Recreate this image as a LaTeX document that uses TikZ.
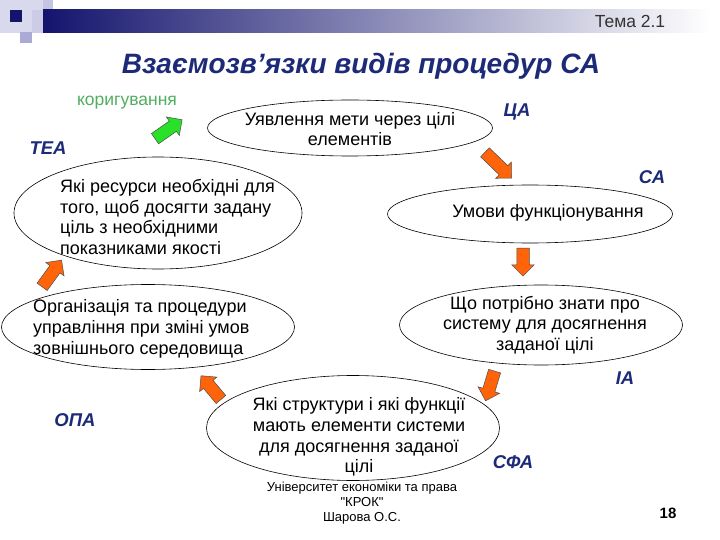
\documentclass[tikz,border=0pt]{standalone}
\usepackage{fontspec}
\setmainfont{Liberation Sans}
\newfontfamily\plainqfont{Liberation Sans}[Ligatures=TeXOff]
\usetikzlibrary{shapes.geometric,shapes.arrows}
\definecolor{navy}{RGB}{28,42,120}
\definecolor{barnavy}{RGB}{20,20,110}
\definecolor{sqlav}{RGB}{170,170,215}
\definecolor{arrorange}{RGB}{255,100,10}
\definecolor{arrgreen}{RGB}{40,225,40}
\definecolor{txtgreen}{RGB}{80,175,95}
\begin{document}
\begin{tikzpicture}[x=1pt,y=-1pt,
  oval/.style={draw, ellipse, line width=0.6pt, inner sep=0pt},
  ovaltext/.style={inner sep=0pt, align=center, font=\fontsize{18}{20.8}\selectfont},
  tag/.style={text=navy, font=\fontsize{18.5}{20}\selectfont\bfseries\itshape},
  blk/.style={single arrow, draw=black!70, fill=arrorange, line width=0.5pt,
    inner xsep=0pt, inner ysep=6pt, minimum width=22pt, single arrow head extend=5pt,
    single arrow head indent=0pt, text width=0pt},
  foot/.style={font=\plainqfont\fontsize{13}{15}\selectfont, align=center}]
\useasboundingbox (0,0) rectangle (720,540);
\fill[white] (0,0) rectangle (720,540);
% header decoration
\fill[sqlav!45] (0,0) rectangle (43,33);
\fill[sqlav!70] (43,0) rectangle (53,18);
\fill[sqlav!60] (32,10) rectangle (43,33);
\fill[sqlav] (20,32) rectangle (32,43);
\fill[barnavy] (10,10) rectangle (22,22);
\shade[left color=barnavy, right color=white] (43,10) rectangle (710,33);
\node[font=\fontsize{17.5}{19}\selectfont, text=black!80] (tema) at (630,21) {Тема 2.1};
% title
\node[text=navy, font=\fontsize{28}{32}\selectfont\bfseries\itshape] (title) at (361,66) {Взаємозв’язки видів процедур СА};
% ellipses
\node[oval, minimum width=285pt, minimum height=56pt] (e1) at (350,128) {};
\node[oval, minimum width=285pt, minimum height=58pt] (e2) at (530,214) {};
\node[oval, minimum width=283pt, minimum height=80pt] (e3) at (541,325) {};
\node[oval, minimum width=293pt, minimum height=105pt] (e4) at (353,428) {};
\node[oval, minimum width=293pt, minimum height=85pt] (e5) at (148,327) {};
\node[oval, minimum width=288pt, minimum height=112pt] (e6) at (158,213) {};
% ellipse texts
\node[ovaltext] (t1) at (350,129) {Уявлення мети через цілі\\елементів};
\node[ovaltext] (t2) at (548,213) {Умови функціонування};
\node[ovaltext] (t3) at (545,325) {Що потрібно знати про\\систему для досягнення\\заданої цілі};
\node[ovaltext] (t4) at (359,437) {Які структури і які функції\\мають елементи системи\\для досягнення заданої\\цілі};
\node[ovaltext, align=left, anchor=west] (t5) at (33,329) {Організація та процедури\\управління при зміні умов\\зовнішнього середовища};
\node[ovaltext, align=left, anchor=west] (t6) at (60,217) {Які ресурси необхідні для\\того, щоб досягти задану\\ціль з необхідними\\показниками якості};
% labels
\node[tag] (tea) at (48,148) {ТЕА};
\node[tag] (ca1) at (517,112) {ЦА};
\node[tag] (ca2) at (652,177) {СА};
\node[tag] (ia) at (625,378) {ІА};
\node[tag] (sfa) at (513,462) {СФА};
\node[tag] (opa) at (75,420) {ОПА};
\node[text=txtgreen, font=\fontsize{17.5}{19}\selectfont] (kor) at (127,103) {коригування};
% block arrows
\node[blk, fill=arrgreen, minimum height=33pt, rotate=35] (ag) at (166,131) {};
\node[blk, minimum height=37pt, rotate=-44] (a1) at (496,163) {};
\node[blk, minimum height=28pt, rotate=-90] (a2) at (523,259) {};
\node[blk, minimum height=31pt, rotate=-107] (a3) at (491,383) {};
\node[blk, minimum height=31pt, rotate=130] (a4) at (213,390) {};
\node[blk, minimum height=33pt, rotate=54] (a5) at (50,276) {};
% footer
\node[foot] (uni) at (362,503) {Університет економіки та права\\"КРОК"\\Шарова О.С.};
\node[font=\fontsize{15}{17}\selectfont\bfseries] (pg) at (668,513) {18};
\end{tikzpicture}
\end{document}
